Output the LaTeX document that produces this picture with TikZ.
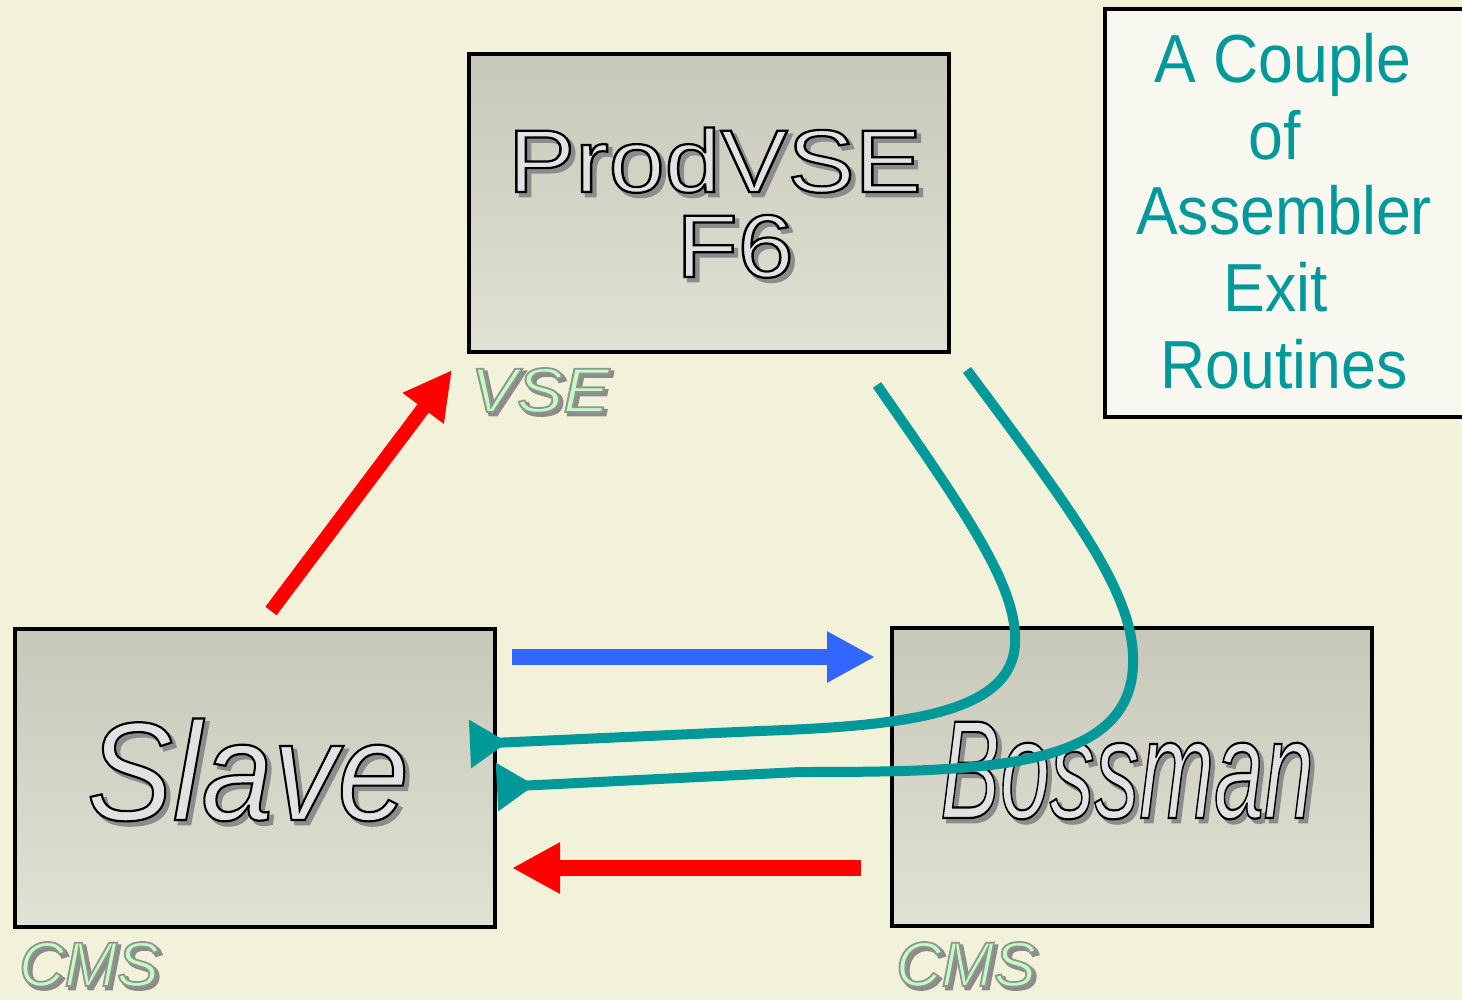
\documentclass[tikz,border=0pt]{standalone}
\usepackage{fontspec}
\setmainfont{Liberation Sans}
\usetikzlibrary{arrows.meta}
\definecolor{bg}{HTML}{F2F2DA}
\definecolor{tealc}{HTML}{009999}
\definecolor{bluec}{HTML}{3366FF}
\definecolor{redc}{HTML}{FF0000}
\definecolor{boxtop}{HTML}{C8C8BA}
\definecolor{boxbot}{HTML}{E1E1D4}
\definecolor{txtfill}{HTML}{E2E2E2}
\definecolor{shadec}{HTML}{8C8C8C}
\definecolor{grnfill}{HTML}{C8FAC8}
\definecolor{titlefill}{HTML}{F8F8F0}
% outlined text: #1 x-scale, #2 stroke width (bp), #3 stroke rgb, #4 text
\newcommand\outl[4]{\scalebox{#1}[1]{\special{pdf:literal 2 Tr #2 w #3 RG}#4\special{pdf:literal 0 Tr}}}
\begin{document}
\begin{tikzpicture}[x=0.5pt,y=-0.5pt,
  sysbox/.style={draw=black, line width=2pt, top color=boxtop, bottom color=boxbot, inner sep=0pt, minimum width=240pt, minimum height=149pt},
  lbl/.style={anchor=base, inner sep=0pt},
  shadowtxt/.style={lbl, text=shadec},
  tealline/.style={draw=tealc, line width=5pt, -{Triangle[reversed,length=19pt,width=23pt]}},
  fatarrow/.style={line width=8pt, -{Triangle[length=24pt,width=24pt]}},
  titletxt/.style={lbl, text=tealc, font=\fontsize{34}{38}\selectfont}
]
\useasboundingbox (0,0) rectangle (1462,1000);
\fill[bg] (0,0) rectangle (1462,1000);

% boxes
\node[sysbox] (prod) at (708.5,203) {};
\node[sysbox] (slave) at (254.5,778) {};
\node[sysbox] (boss) at (1131.5,777) {};
\node[draw=black, line width=2pt, fill=titlefill, minimum width=190pt, minimum height=203.5pt, inner sep=0pt, anchor=north west] (title) at (1103,7.5) {};

% title text
\node[titletxt] (t1) at (1283,83) {\scalebox{0.92}[1]{A Couple}};
\node[titletxt] (t2) at (1275,160) {\scalebox{0.92}[1]{of}};
\node[titletxt] (t3) at (1284,235) {\scalebox{0.92}[1]{Assembler}};
\node[titletxt] (t4) at (1276,312) {\scalebox{0.92}[1]{Exit}};
\node[titletxt] (t5) at (1284,388) {\scalebox{0.92}[1]{Routines}};

% ProdVSE F6
\node[shadowtxt, font=\fontsize{44.5}{48}\selectfont] (prodsh) at (719,196) {\outl{1.13}{1.4}{0.55 0.55 0.55}{ProdVSE}};
\node[lbl, text=txtfill, font=\fontsize{44.5}{48}\selectfont] (prodtx) at (715,192) {\outl{1.13}{1.1}{0 0 0}{ProdVSE}};
\node[shadowtxt, font=\fontsize{44.5}{48}\selectfont] (f6sh) at (739,281) {\outl{1.13}{1.4}{0.55 0.55 0.55}{F6}};
\node[lbl, text=txtfill, font=\fontsize{44.5}{48}\selectfont] (f6tx) at (735,277) {\outl{1.13}{1.1}{0 0 0}{F6}};

% Slave
\node[shadowtxt, font=\fontsize{70}{74}\selectfont\itshape] (slavesh) at (252,824) {\outl{0.92}{1.4}{0.55 0.55 0.55}{Slave}};
\node[lbl, text=txtfill, font=\fontsize{70}{74}\selectfont\itshape] (slavetx) at (248,820) {\outl{0.92}{1.1}{0 0 0}{Slave}};

% Bossman
\node[shadowtxt, font=\fontsize{70}{74}\selectfont\itshape] (bosssh) at (1131,822) {\outl{0.64}{1.4}{0.55 0.55 0.55}{Bossman}};
\node[lbl, text=txtfill, font=\fontsize{70}{74}\selectfont\itshape] (bosstx) at (1127,818) {\outl{0.64}{1.1}{0 0 0}{Bossman}};

% VSE / CMS labels
\node[shadowtxt, font=\fontsize{31.5}{34}\selectfont\itshape] (vsesh) at (543,415) {\outl{1.1}{1.3}{0.55 0.55 0.55}{VSE}};
\node[lbl, text=grnfill, font=\fontsize{31.5}{34}\selectfont\itshape] (vsetx) at (540,412) {\outl{1.1}{0.9}{0.55 0.6 0.55}{VSE}};
\node[shadowtxt, font=\fontsize{31.5}{34}\selectfont\itshape] (cms1sh) at (92,989) {\outl{1.0}{1.3}{0.55 0.55 0.55}{CMS}};
\node[lbl, text=grnfill, font=\fontsize{31.5}{34}\selectfont\itshape] (cms1tx) at (89,986) {\outl{1.0}{0.9}{0.55 0.6 0.55}{CMS}};
\node[shadowtxt, font=\fontsize{31.5}{34}\selectfont\itshape] (cms2sh) at (969,989) {\outl{1.0}{1.3}{0.55 0.55 0.55}{CMS}};
\node[lbl, text=grnfill, font=\fontsize{31.5}{34}\selectfont\itshape] (cms2tx) at (966,986) {\outl{1.0}{0.9}{0.55 0.6 0.55}{CMS}};

% connector endpoints
\coordinate (rdS) at (271,611);
\coordinate (rdE) at (452,370);
\coordinate (blS) at (512,657);
\coordinate (blE) at (875,657);
\coordinate (rhS) at (861,868);
\coordinate (rhE) at (512,868);
\coordinate (t1S) at (877,385);
\coordinate (t1E) at (470,744);
\coordinate (t2S) at (967,370);
\coordinate (t2E) at (497,787);

\draw[fatarrow, redc, line width=7pt] (rdS) -- (rdE);
\draw[fatarrow, bluec] (blS) -- (blE);
\draw[fatarrow, redc] (rhS) -- (rhE);

\draw[tealline] (t1S) .. controls (975,525) and (1018,590) .. (1015,645)
  .. controls (1010,715) and (900,726) .. (760,731) -- (t1E);
\draw[tealline] (t2S) .. controls (1075,515) and (1136,595) .. (1133,665)
  .. controls (1130,770) and (980,772) .. (800,772) -- (t2E);
\end{tikzpicture}
\end{document}
